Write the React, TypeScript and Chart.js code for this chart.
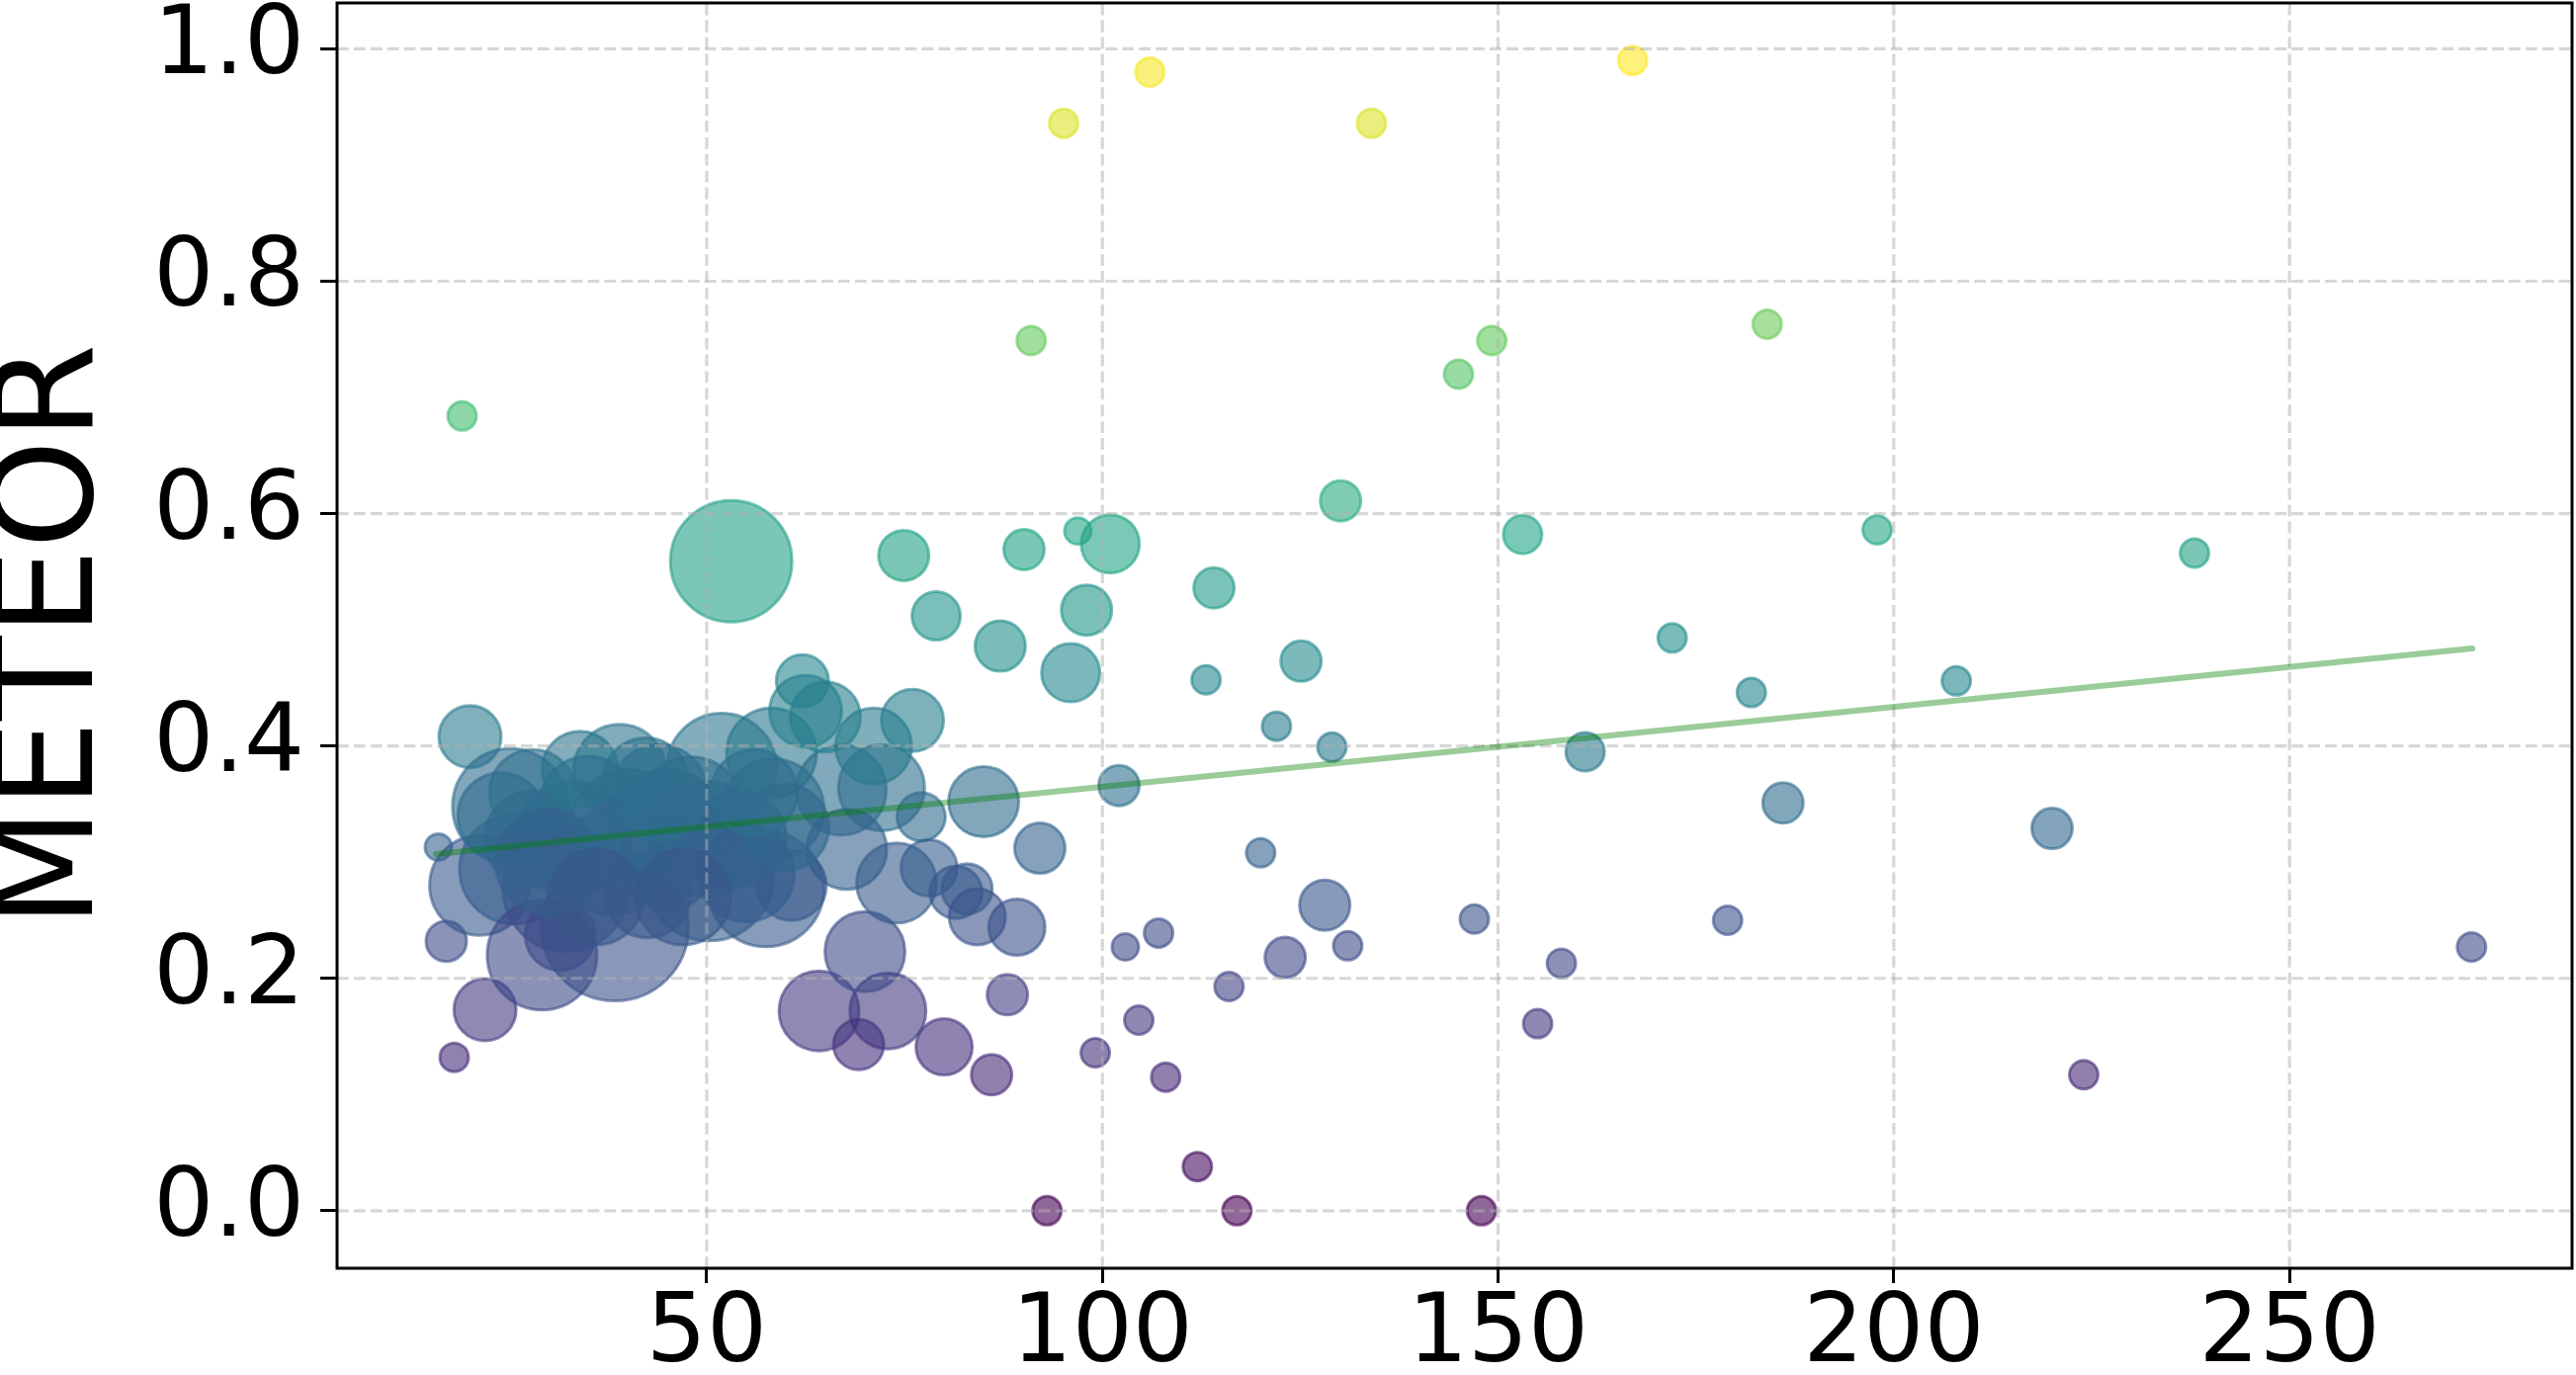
import React, { useEffect, useRef } from "react";
import { Chart, registerables } from "chart.js";

Chart.register(...registerables);

// Bubble data: x (length), y (METEOR), size (outer bubble radius in px of the original figure)
const xValues = [
  19.1, 95.1, 106.0, 134.0, 167.0, 91.0, 145.0, 149.2, 184.0, 130.1,
  153.1, 197.9, 238.0, 53.1, 74.9, 90.1, 96.9, 101.0, 114.1, 79.0,
  98.0, 87.1, 96.0, 125.1, 113.1, 172.0, 182.0, 207.9, 122.0, 129.0,
  161.0, 102.1, 186.0, 220.0, 92.1, 120.0, 128.1, 147.0, 179.0, 102.9,
  107.1, 123.1, 131.0, 158.0, 273.0, 116.0, 104.6, 155.0, 99.1, 108.0,
  224.0, 112.0, 93.0, 117.0, 147.9,
  88.0, 86.0, 80.0, 72.9, 64.2, 69.2, 70.0,
  20.1, 16.1, 17.1, 22.0, 18.1, 21.3, 25.7, 25.2, 32.2, 31.5,
  29.2, 38.4, 39.0, 42.3, 51.9, 42.5, 50.3, 57.5, 58.2, 58.4,
  67.0, 72.1, 71.1, 67.7, 60.7, 62.1, 62.5, 65.0, 76.0, 77.1,
  74.0, 78.1, 81.5, 82.9, 84.2, 89.2, 85.0,
  33.0, 45.0, 38.0, 48.0, 28.0, 54.0, 35.0, 45.0,
  24.0, 28.0, 30.0, 40.0, 50.0, 55.0, 44.0, 36.0, 60.0, 47.0, 34.0, 56.0,
];

const yValues = [
  0.684, 0.936, 0.980, 0.936, 0.990, 0.749, 0.720, 0.749, 0.763, 0.611,
  0.582, 0.586, 0.566, 0.559, 0.564, 0.569, 0.585, 0.574, 0.536, 0.512,
  0.517, 0.486, 0.463, 0.473, 0.457, 0.493, 0.446, 0.456, 0.417, 0.399,
  0.395, 0.366, 0.351, 0.329, 0.312, 0.308, 0.263, 0.251, 0.250, 0.227,
  0.239, 0.218, 0.228, 0.213, 0.227, 0.193, 0.164, 0.161, 0.136, 0.115,
  0.117, 0.038, 0.000, 0.000, 0.000,
  0.186, 0.117, 0.141, 0.172, 0.172, 0.143, 0.223,
  0.408, 0.313, 0.232, 0.173, 0.132, 0.280, 0.294, 0.348, 0.277, 0.237,
  0.220, 0.244, 0.379, 0.370, 0.381, 0.272, 0.288, 0.277, 0.394, 0.345,
  0.362, 0.364, 0.400, 0.311, 0.280, 0.456, 0.430, 0.425, 0.422, 0.339,
  0.282, 0.295, 0.274, 0.277, 0.253, 0.244, 0.352,
  0.320, 0.330, 0.300, 0.345, 0.320, 0.320, 0.350, 0.300,
  0.340, 0.360, 0.300, 0.330, 0.320, 0.290, 0.360, 0.270, 0.330, 0.270, 0.380, 0.360,
];

const sizeValues = [
  16, 16, 16, 16, 16, 16, 16, 16, 16, 22,
  21, 16, 16, 63, 27, 22, 15, 31, 22, 26,
  27, 27, 31, 22, 16, 16, 16, 16, 16, 16,
  21, 22, 22, 22, 27, 16, 27, 16, 16, 15,
  16, 22, 16, 16, 16, 16, 16, 16, 16, 16,
  16, 16, 16, 16, 16,
  22, 22, 30, 40, 42, 27, 42,
  33, 15, 22, 33, 16, 52, 57, 60, 65, 37,
  57, 76, 48, 45, 57, 45, 67, 60, 47, 53,
  47, 45, 40, 42, 37, 28, 38, 37, 33, 26,
  42, 30, 28, 27, 30, 30, 37,
  60, 60, 55, 55, 50, 50, 50, 50,
  45, 45, 55, 60, 60, 50, 50, 50, 45, 50, 40, 45,
];

// Regression (trend) line endpoints
const trendX = [15.8, 273.1];
const trendY = [0.307, 0.484];

const xTicks = [50, 100, 150, 200, 250];
const yTicks = [0.0, 0.2, 0.4, 0.6, 0.8, 1.0];

const VIRIDIS: [number, number, number][] = [
  [68, 1, 84], [72, 36, 117], [65, 68, 135], [53, 95, 141], [42, 120, 142],
  [33, 145, 140], [34, 168, 132], [68, 191, 112], [122, 209, 81], [189, 223, 38],
  [253, 231, 37],
];

function viridis(t: number, alpha: number): string {
  const tt = Math.max(0, Math.min(1, t)) * (VIRIDIS.length - 1);
  const i = Math.min(VIRIDIS.length - 2, Math.floor(tt));
  const f = tt - i;
  const a = VIRIDIS[i];
  const b = VIRIDIS[i + 1];
  const c = a.map((v, k) => Math.round(v + (b[k] - v) * f));
  return `rgba(${c[0]},${c[1]},${c[2]},${alpha})`;
}

const W = 2606;
const H = 1391;
const FONT = "'DejaVu Sans', 'Liberation Sans', sans-serif";

function zeroPad(s: any) {
  s.paddingLeft = 0;
  s.paddingRight = 0;
  s.paddingTop = 0;
  s.paddingBottom = 0;
}

export default function App() {
  const ref = useRef<HTMLCanvasElement>(null);

  useEffect(() => {
    const canvas = ref.current;
    if (!canvas) return;
    const vmin = Math.min(...yValues);
    const vmax = Math.max(...yValues);
    const colors = yValues.map((v) => viridis((v - vmin) / (vmax - vmin), 0.6));

    const overlay = {
      id: "overlayGridFrame",
      afterDatasetDraw(chart: any, args: any) {
        if (args.index !== 0) return;
        const { ctx, chartArea: ca, scales } = chart;
        ctx.save();
        ctx.beginPath();
        ctx.rect(ca.left, ca.top, ca.right - ca.left, ca.bottom - ca.top);
        ctx.clip();
        ctx.strokeStyle = "rgba(176,176,176,0.5)";
        ctx.lineWidth = 3.2;
        ctx.setLineDash([11.8, 5.1]);
        for (const v of xTicks) {
          const px = scales.x.getPixelForValue(v);
          ctx.beginPath();
          ctx.moveTo(px, ca.bottom);
          ctx.lineTo(px, ca.top);
          ctx.stroke();
        }
        for (const v of yTicks) {
          const py = scales.y.getPixelForValue(v);
          ctx.beginPath();
          ctx.moveTo(ca.left, py);
          ctx.lineTo(ca.right, py);
          ctx.stroke();
        }
        ctx.restore();
      },
      afterDatasetsDraw(chart: any) {
        const { ctx, chartArea: ca } = chart;
        ctx.save();
        ctx.setLineDash([]);
        ctx.strokeStyle = "#000";
        ctx.lineWidth = 3;
        ctx.strokeRect(ca.left, ca.top, ca.right - ca.left, ca.bottom - ca.top);
        ctx.restore();
      },
    };

    const chart = new Chart(canvas, {
      type: "bubble",
      data: {
        datasets: [
          {
            type: "bubble",
            data: xValues.map((x, i) => ({ x, y: yValues[i], r: sizeValues[i] - 1.5 })),
            backgroundColor: colors,
            borderColor: colors,
            borderWidth: 3,
            order: 1,
          } as any,
          {
            type: "line",
            data: trendX.map((x, i) => ({ x, y: trendY[i] })),
            borderColor: "rgba(0,128,0,0.4)",
            borderWidth: 6,
            borderCapStyle: "round",
            pointRadius: 0,
            fill: false,
            order: 0,
          } as any,
        ],
      },
      options: {
        responsive: false,
        animation: false,
        events: [],
        layout: { autoPadding: false, padding: { top: 3, right: 4, left: 0, bottom: 0 } },
        plugins: { legend: { display: false }, tooltip: { enabled: false } },
        scales: {
          x: {
            type: "linear",
            min: 3.3,
            max: 285.7,
            afterFit: (s: any) => {
              s.height = 108;
              zeroPad(s);
            },
            afterBuildTicks: (s: any) => {
              s.ticks = xTicks.map((v) => ({ value: v }));
            },
            grid: {
              display: true,
              drawOnChartArea: false,
              drawTicks: true,
              tickLength: 15,
              tickWidth: 3,
              tickColor: "#000",
              tickBorderDash: [],
            },
            border: { display: false },
            ticks: {
              autoSkip: false,
              maxRotation: 0,
              padding: 6,
              color: "#000",
              font: { family: FONT, size: 96, lineHeight: 1 },
              callback: (v: any) => String(v),
            },
          },
          y: {
            type: "linear",
            min: -0.0495,
            max: 1.0395,
            afterFit: (s: any) => {
              s.width = 341;
              zeroPad(s);
            },
            afterBuildTicks: (s: any) => {
              s.ticks = yTicks.map((v) => ({ value: v }));
            },
            grid: {
              display: true,
              drawOnChartArea: false,
              drawTicks: true,
              tickLength: 17,
              tickWidth: 3,
              tickColor: "#000",
              tickBorderDash: [],
            },
            border: { display: false },
            ticks: {
              autoSkip: false,
              padding: 16,
              color: "#000",
              font: { family: FONT, size: 96, lineHeight: 1 },
              callback: (v: any) => Number(v).toFixed(1),
            },
            title: {
              display: true,
              text: "METEOR",
              color: "#000",
              padding: 0,
              font: { family: FONT, size: 140, lineHeight: 0.81 },
            },
          },
        },
      } as any,
      plugins: [overlay],
    });

    return () => chart.destroy();
  }, []);

  return (
    <div style={{ position: "fixed", left: 0, top: 0, width: W, height: H, background: "#fff" }}>
      <canvas ref={ref} width={W} height={H} style={{ display: "block", width: W, height: H }} />
    </div>
  );
}
